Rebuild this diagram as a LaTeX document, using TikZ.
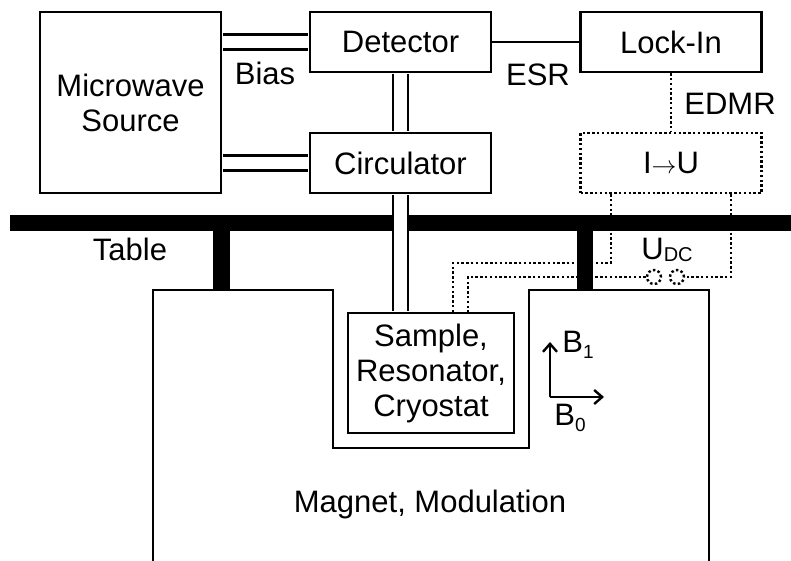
\documentclass[tikz,border=0pt]{standalone}
\usepackage{fontspec}
\setmainfont{Liberation Sans}
\usetikzlibrary{arrows.meta}

\begin{document}
\begin{tikzpicture}[x=1pt, y=-1pt, >={Straight Barb[length=8pt,width=14pt]},
  every node/.style={font=\fontsize{31}{35}\selectfont},
  box/.style={draw, line width=2.4pt, minimum width=181pt, minimum height=60pt, inner sep=0pt, align=center},
  guide/.style={line width=2.4pt, double, double distance=12.6pt, shorten <=1.2pt, shorten >=1.2pt},
  dotline/.style={line width=2.4pt, dash pattern=on 2.4pt off 2.4pt}]
\clip (0,0) rectangle (791,560);
% --- Table ---
\fill (10,215) rectangle (791,231);
\fill (213,231) rectangle (230,290);
\fill (577,231) rectangle (593,290);
\node (table) at (130,249) {Table};
% --- Magnet ---
\draw[line width=2.4pt] (153,570) -- (153,290) -- (333,290) -- (333,448) -- (529,448) -- (529,290) -- (709,290) -- (709,570);
\node (magnet) at (430,504) {Magnet, Modulation};
% --- Boxes ---
\node[box, minimum height=181pt] (src) at (130.5,102.5) {Microwave\\Source};
\node[box] (det) at (400.5,42) {Detector};
\node[box] (circ) at (400.5,163) {Circulator};
\node[box] (lock) at (671,42) {Lock-In};
\node[box, dotline] (iu) at (671,163) {I$\rightarrow$U};
\node[box, minimum width=166pt, minimum height=120pt] (sam) at (431,373) {Sample,\\Resonator,\\Cryostat};
% --- Waveguides ---
\draw[guide] (src.east |- det.west) -- (det.west);
\draw[guide] (src.east |- circ.west) -- (circ.west);
\draw[guide] (det.south) -- (circ.north);
\draw[guide] (circ.south) -- (sam.north -| circ.south);
% --- Signals ---
\draw[line width=2.4pt] (det.east) -- (lock.west);
\draw[dotline] (lock.south) -- (iu.north);
\node[draw, circle, dotline, minimum size=14pt, inner sep=0pt] (c1) at (654,277) {};
\node[draw, circle, dotline, minimum size=14pt, inner sep=0pt] (c2) at (677,277) {};
\draw[dotline] (iu.south -| 611,0) -- (611,263) -- (453,263) -- (sam.north -| 453,0);
\draw[dotline] (iu.south -| 731,0) -- (731,277) -- (c2.east);
\draw[dotline] (c1.west) -- (468,277) -- (sam.north -| 468,0);
\node (bias) at (265,73) {Bias};
\node (esr) at (538,75) {ESR};
\node (edmr) at (730,104) {EDMR};
\node (udc) at (667,249.5) {U\raisebox{-2pt}{\fontsize{20}{20}\selectfont DC}};
% --- Fields ---
\coordinate (bo) at (550,397);
\draw[->, line width=2.4pt] (bo) -- ++(0,-55);
\draw[->, line width=2.4pt] (bo) -- ++(54,0);
\node (b1) at (578,345) {B\raisebox{-6pt}{\fontsize{19}{19}\selectfont 1}};
\node (b0) at (570,418) {B\raisebox{-6pt}{\fontsize{19}{19}\selectfont 0}};
\end{tikzpicture}
\end{document}
